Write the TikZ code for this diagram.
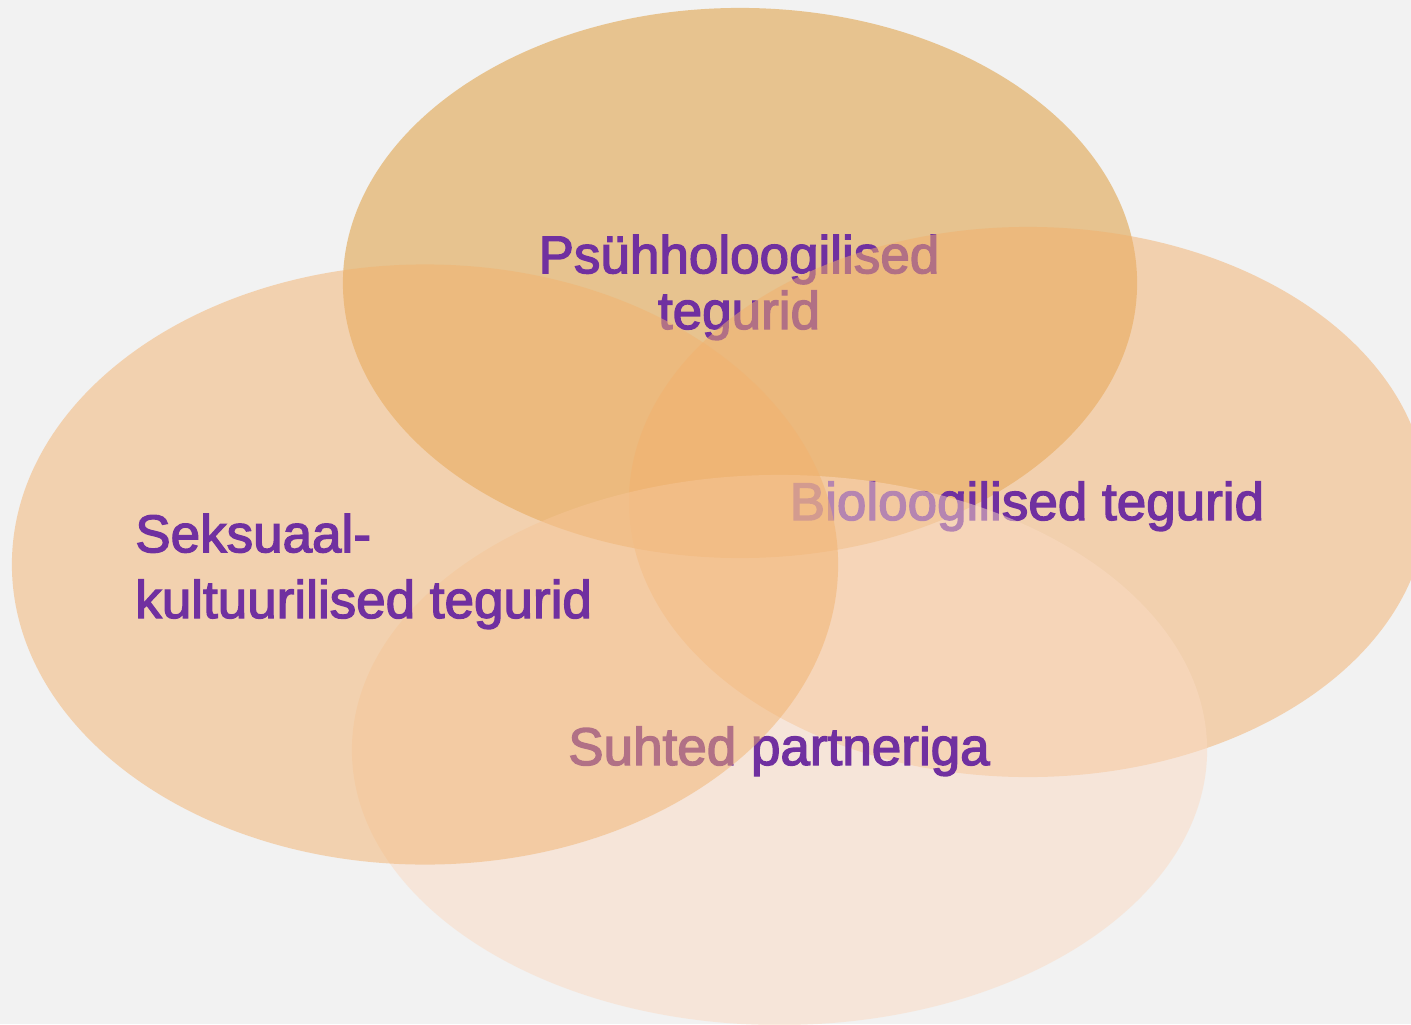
\documentclass[tikz,border=0pt]{standalone}
\usepackage{fontspec}
\setmainfont{Liberation Sans}[BoldFont=Liberation Sans, BoldFeatures={FakeBold=2.5}]
\usepackage{xcolor}
\usetikzlibrary{shapes.geometric}

\definecolor{bgcol}{HTML}{F2F2F2}
\definecolor{textcol}{HTML}{7030A0}
\definecolor{psycol}{RGB}{222,150,46}
\definecolor{biocol}{RGB}{242,176,108}
\definecolor{partcol}{RGB}{250,218,194}
\definecolor{sexcol}{RGB}{242,178,110}

\tikzset{
  circ/.style={ellipse, draw=none, fill opacity=0.5, inner sep=0pt},
  venntext/.style={text=textcol, inner sep=0pt, font=\fontsize{37.7}{39.7}\selectfont\bfseries}
}

\begin{document}
\begin{tikzpicture}[x=0.025cm, y=-0.025cm]

    % Background
    \clip (0,0) rectangle (1411,1024);
    \fill[bgcol] (0,0) rectangle (1411,1024);

    % Define nodes
    \node[circ, fill=psycol, minimum width=19.85cm, minimum height=13.75cm] (psy) at (740,283) {};
    \node[venntext, align=center, anchor=base] (psytext) at (739,329) {Psühholoogilised\\tegurid};

    \node[circ, fill=biocol, minimum width=19.95cm, minimum height=13.75cm] (bio) at (1028,502) {};
    \node[venntext, anchor=base] (biotext) at (1027,520) {Bioloogilised tegurid};

    \node[circ, fill=partcol, minimum width=21.375cm, minimum height=13.75cm] (part) at (779.5,750) {};
    \node[venntext, anchor=base] (parttext) at (779,765) {Suhted partneriga};

    \node[circ, fill=sexcol, minimum width=20.65cm, minimum height=15cm] (sex) at (425,564.5) {};
    \node[venntext, align=left, anchor=base west, font=\fontsize{37.7}{46.8}\selectfont\bfseries] (sextext) at (135,618) {Seksuaal-\\kultuurilised tegurid};

\end{tikzpicture}
\end{document}
